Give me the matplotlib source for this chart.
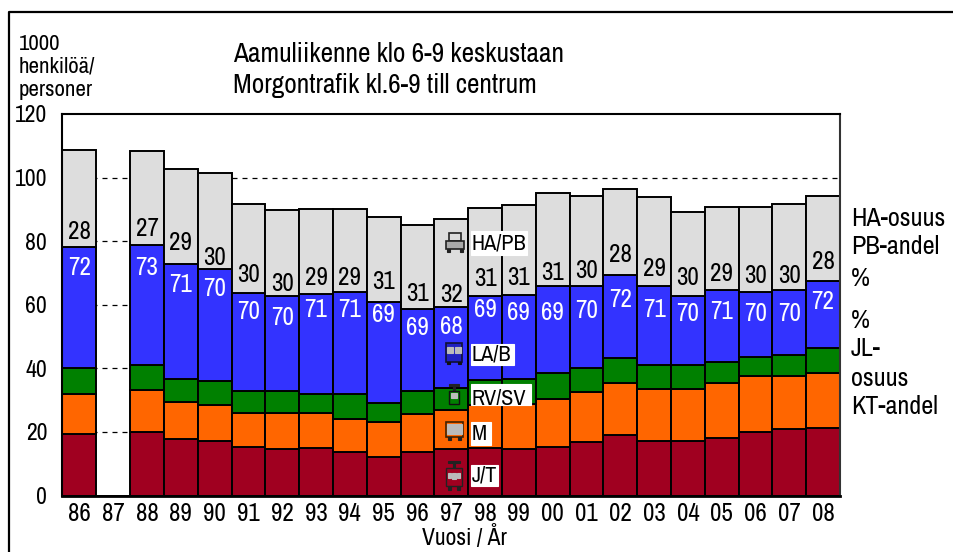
import matplotlib
matplotlib.use("Agg")
import matplotlib.pyplot as plt
import numpy as np
from matplotlib.patches import Rectangle

plt.rcParams["font.family"] = ["Archivo Narrow", "PT Sans Narrow", "Liberation Sans", "DejaVu Sans"]

W, H = 954, 552

years = ["86", "87", "88", "89", "90", "91", "92", "93", "94", "95", "96", "97",
         "98", "99", "00", "01", "02", "03", "04", "05", "06", "07", "08"]

jt = [19.5, 0, 20.1, 17.9, 17.3, 15.1, 14.5, 15.0, 13.7, 12.0, 13.8, 14.5,
      15.0, 14.5, 15.4, 16.7, 18.9, 17.3, 17.3, 18.2, 20.1, 20.8, 21.1]
metro = [12.3, 0, 13.2, 11.4, 11.1, 10.8, 11.4, 11.0, 10.3, 11.0, 11.7, 12.5,
         13.6, 14.4, 15.1, 16.0, 16.6, 16.3, 16.3, 17.3, 17.6, 16.9, 17.3]
rv = [8.2, 0, 7.7, 7.3, 7.7, 6.9, 6.9, 6.0, 8.0, 6.0, 7.3, 6.9,
      7.6, 7.9, 7.9, 7.3, 7.9, 7.6, 7.6, 6.6, 6.0, 6.6, 8.1]
bus = [38.3, 0, 37.9, 36.1, 35.2, 31.0, 29.8, 31.5, 32.0, 32.0, 26.0, 25.5,
       26.4, 26.4, 27.6, 26.0, 26.1, 24.8, 21.4, 22.4, 20.2, 20.2, 21.1]
car = [30.4, 0, 29.4, 29.9, 30.2, 27.8, 27.3, 26.5, 26.0, 26.5, 26.2, 27.6,
       27.9, 28.3, 29.0, 28.3, 27.0, 28.0, 26.7, 26.4, 27.0, 27.3, 26.7]

car_share = [28, None, 27, 29, 30, 30, 30, 29, 29, 31, 31, 32,
             31, 31, 31, 30, 28, 29, 30, 29, 30, 30, 28]
pt_share = [72, None, 73, 71, 70, 70, 70, 71, 71, 69, 69, 68,
            69, 69, 69, 70, 72, 71, 70, 71, 70, 70, 72]

car_label_y = [83.0, None, 84.0, 79.6, 74.8, 69.5, 66.7, 68.6, 68.6, 67.3, 63.5, 63.2,
               68.2, 68.6, 70.1, 70.8, 75.8, 71.4, 68.6, 69.8, 69.2, 69.2, 73.6]
pt_label_y = [71.7, None, 71.7, 66.4, 65.1, 57.9, 56.0, 58.5, 58.5, 56.9, 52.8, 53.1,
              58.5, 57.5, 57.5, 58.2, 61.6, 58.5, 57.2, 57.9, 57.2, 57.2, 61.0]

series = [jt, metro, rv, bus, car]
colors = ["#A00020", "#FF6600", "#008000", "#3333FF", "#DDDDDD"]

fig = plt.figure(figsize=(W / 100, H / 100), dpi=100)
ax = fig.add_axes([62.5 / W, 1 - 495.5 / H, 777.5 / W, 381.5 / H])


def fx(x):
    return x / W


def fy(y):
    return 1 - y / H


def box(x, y, w, h, color, edge=None, lw=0.8, z=5):
    r = Rectangle((fx(x), fy(y + h)), w / W, h / H, transform=fig.transFigure,
                  facecolor=color, edgecolor=edge or color, linewidth=lw, zorder=z)
    fig.add_artist(r)
    return r


def label(s, x, y, **kw):
    return fig.text(fx(x), fy(y), s, ha="left", va="center", color="black", **kw)


x = np.arange(len(years))
bottom = np.zeros(len(years))
for vals, col in zip(series, colors):
    ax.bar(x, vals, width=1.0, bottom=bottom, color=col, edgecolor="black", linewidth=1.4, zorder=3)
    bottom += np.array(vals)

ax.set_xlim(-0.5, 22.5)
ax.set_ylim(0, 120)
ax.set_yticks(np.arange(0, 121, 20))
ax.set_xticks(x)
ax.set_xticklabels(years)
ax.tick_params(axis="x", length=0, labelsize=18, pad=5)
ax.tick_params(axis="y", length=0, labelsize=17, pad=11)
for v in range(20, 101, 20):
    ax.axhline(v, color="black", lw=0.9, dashes=(4, 4), zorder=1)
for s in ax.spines.values():
    s.set_linewidth(1.5)
    s.set_zorder(4)
ax.spines["bottom"].set_linewidth(2)
ax.spines["right"].set_color("#333333")

for i in range(len(years)):
    if car_share[i] is None:
        continue
    ax.text(i, car_label_y[i], str(car_share[i]), ha="center", va="center", fontsize=18, color="black", zorder=6)
    ax.text(i, pt_label_y[i], str(pt_share[i]), ha="center", va="center", fontsize=18, color="white", zorder=6)

label("Vuosi / År", 422, 537, fontsize=17)

# outer frame
fig.add_artist(plt.Line2D([fx(9), fx(9), 1], [0, fy(12), fy(12)], color="black", lw=1.6))

# top texts
label("1000", 19, 44, fontsize=16.5)
label("henkilöä/", 19, 67, fontsize=16.5)
label("personer", 19, 90, fontsize=16.5)
label("Aamuliikenne klo 6-9 keskustaan", 233, 54, fontsize=19.7)
label("Morgontrafik kl.6-9 till centrum", 233, 85, fontsize=19.7)

# right side texts
for s, y in [("HA-osuus", 218), ("PB-andel", 247), ("%", 279), ("%", 320),
             ("JL-", 349), ("osuus", 378), ("KT-andel", 406)]:
    label(s, 851, y, fontsize=18.8)

# legend labels inside the bars
for s, x0, y0, w0, h0 in [("HA/PB", 471, 231, 56, 24), ("LA/B", 471, 344, 43, 21),
                          ("RV/SV", 471, 384, 60, 21), ("M", 471, 422, 20, 23),
                          ("J/T", 471, 465, 27, 21)]:
    box(x0, y0, w0, h0, "white", z=5)
    t = label(s, x0 + 0.5, y0 + (h0 / 2 if s != "RV/SV" else 14), fontsize=16, zorder=6)
    if s == "RV/SV":
        t.set_clip_path(Rectangle((x0, H - y0 - h0), w0, h0, transform=None))

# car icon
box(449, 233, 12, 8, "#DDDDDD", "#222222", 1.2, 6)
box(446, 241, 18, 8, "#AAAAAA", "#222222", 1.2, 6)
box(447, 249, 3, 3, "#222222", z=6)
box(460, 249, 3, 3, "#222222", z=6)
# bus icon
box(446, 343, 16, 19, "#2020C0", "#111133", 1.2, 6)
box(447, 347, 6, 6, "#BBBBBB", z=7)
box(455, 347, 6, 6, "#BBBBBB", z=7)
box(447, 362, 3, 2, "#111111", z=6)
box(458, 362, 3, 2, "#111111", z=6)
# metro icon
box(446, 422, 17, 15, "#FF6600", "#442200", 1.2, 6)
box(447, 424, 15, 10, "#BBBBBB", z=7)
box(448, 437, 3, 3, "#222222", z=6)
box(458, 437, 3, 3, "#222222", z=6)
# commuter train icon
box(449, 384, 10, 2, "#222222", z=6)
box(453, 386, 2, 5, "#222222", z=6)
box(449, 391, 10, 13, "#008000", "#111111", 1.0, 6)
box(451, 393, 6, 5, "#BBBBBB", z=7)
# tram icon
box(448, 461, 12, 2, "#222222", z=6)
box(453, 463, 2, 5, "#222222", z=6)
box(446, 468, 16, 18, "#A00020", "#222222", 1.0, 6)
box(448, 473, 3, 5, "#BBBBBB", z=7)
box(457, 473, 3, 5, "#BBBBBB", z=7)
box(452, 473, 4, 6, "#BBBBBB", z=7)
box(448, 486, 3, 4, "#222222", z=6)
box(457, 486, 3, 4, "#222222", z=6)

fig.savefig("out.png", dpi=100)
